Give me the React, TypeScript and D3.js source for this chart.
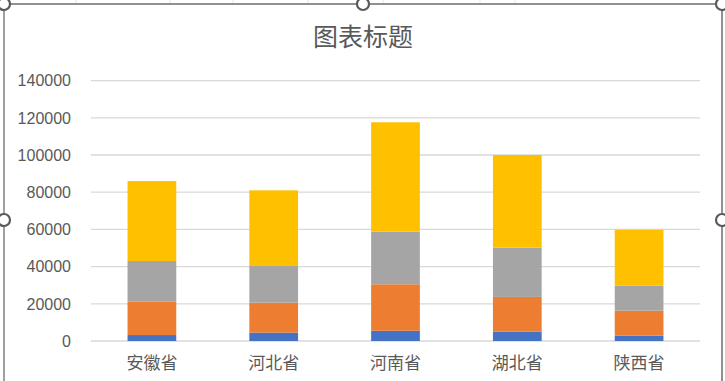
import React from "react";
import * as d3 from "d3";

const categories = ["安徽省", "河北省", "河南省", "湖北省", "陕西省"];
const seriesNames = ["系列1", "系列2", "系列3", "系列4"];
const series1 = [3200, 4500, 5500, 5000, 2900];
const series2 = [17900, 16100, 25000, 18700, 13400];
const series3 = [21900, 19700, 28300, 26500, 13400];
const series4 = [43000, 40700, 58800, 49800, 30100];
const yTicks = [0, 20000, 40000, 60000, 80000, 100000, 120000, 140000];
const colors = ["#4472C4", "#ED7D31", "#A5A5A5", "#FFC000"];
const title = "图表标题";

export default function App() {
  const W = 725;
  const H = 381;
  const plotL = 91;
  const plotR = 700;
  const plotT = 80.6;
  const plotB = 341;

  const x = d3
    .scaleBand<string>()
    .domain(categories)
    .range([plotL, plotR])
    .paddingInner(0.6)
    .paddingOuter(0.3);
  const y = d3.scaleLinear().domain([0, 140000]).range([plotB, plotT]);

  const rows = categories.map((c, i) => ({
    cat: c,
    s0: series1[i],
    s1: series2[i],
    s2: series3[i],
    s3: series4[i],
  }));
  const stack = d3.stack<any>().keys(["s0", "s1", "s2", "s3"]);
  const stacked = stack(rows);

  const font = "'Liberation Sans', Arial, 'Noto Sans CJK SC', sans-serif";
  const cjk = "'Noto Sans CJK SC', sans-serif";
  const textColor = "#595959";
  const handle = (cx: number, cy: number, k: string) => (
    <circle key={k} cx={cx} cy={cy} r={6} fill="#fff" stroke="#5a5a5a" strokeWidth={2.2} />
  );

  return (
    <svg
      width={W}
      height={H}
      style={{ position: "fixed", left: 0, top: 0, display: "block", background: "#fff" }}
    >
      {/* spreadsheet background faint lines */}
      {[76, 170, 233, 308, 383, 480, 515].map((gx, i) => (
        <line key={"bg" + i} x1={gx} x2={gx} y1={0} y2={4} stroke="#e6e6e6" strokeWidth={1} />
      ))}
      {/* chart frame */}
      <rect x={4} y={4} width={718} height={H + 10} fill="#fff" stroke="none" />
      <line x1={4} x2={722} y1={4} y2={4} stroke="#6b6b6b" strokeWidth={1.5} />
      <line x1={4} x2={4} y1={4} y2={H} stroke="#a0a0a0" strokeWidth={2} />
      <line x1={722} x2={722} y1={4} y2={H} stroke="#6b6b6b" strokeWidth={1.5} />

      {/* title */}
      <text
        x={363}
        y={46}
        textAnchor="middle"
        fontFamily={cjk}
        fontSize={25}
        fill={textColor}
      >
        {title}
      </text>

      {/* gridlines */}
      {yTicks.map((t) => (
        <line
          key={"g" + t}
          x1={plotL}
          x2={plotR}
          y1={y(t)}
          y2={y(t)}
          stroke="#d9d9d9"
          strokeWidth={1.3}
        />
      ))}

      {/* y tick labels */}
      {yTicks.map((t) => (
        <text
          key={"t" + t}
          x={71}
          y={y(t)}
          dy="0.36em"
          textAnchor="end"
          fontFamily={font}
          fontSize={16}
          fill={textColor}
        >
          {t}
        </text>
      ))}

      {/* bars */}
      {stacked.map((layer, li) => (
        <g key={seriesNames[li]} fill={colors[li]}>
          {layer.map((d: any, i: number) => (
            <rect
              key={categories[i]}
              x={x(categories[i])}
              width={x.bandwidth()}
              y={y(d[1])}
              height={y(d[0]) - y(d[1])}
            />
          ))}
        </g>
      ))}

      {/* category labels */}
      {categories.map((c) => (
        <text
          key={"c" + c}
          x={(x(c) as number) + x.bandwidth() / 2}
          y={369}
          textAnchor="middle"
          fontFamily={cjk}
          fontSize={17}
          fill={textColor}
        >
          {c}
        </text>
      ))}

      {/* selection handles */}
      {handle(4, 4, "h1")}
      {handle(363, 4, "h2")}
      {handle(722, 4, "h3")}
      {handle(4, 220, "h4")}
      {handle(722, 220, "h5")}
    </svg>
  );
}
